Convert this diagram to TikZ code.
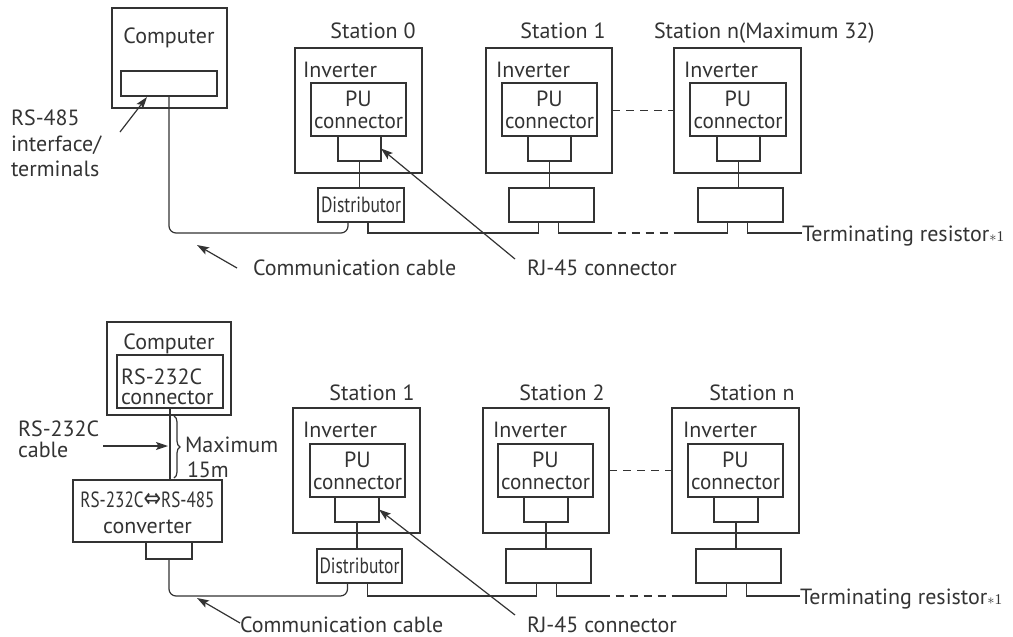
\documentclass[tikz,border=0pt]{standalone}
\usepackage{fontspec}
\setmainfont{PT Sans}
\newfontfamily\symfont{DejaVu Sans}
\newfontfamily\serfont{Liberation Serif}
\usepackage{graphicx}
\usetikzlibrary{arrows.meta,calc,decorations.pathreplacing}
\definecolor{ink}{HTML}{333333}
\newcommand\fs{\fontsize{22}{22}\selectfont}
\newcommand\rbox[6]{\node[box,minimum width={#4-#2},minimum height={#5-#3}] (#1) at ({(#2+#4)/2},{(#3+#5)/2}) {#6};}
\newcommand\distlbl{\resizebox{80pt}{\height}{Distributor}}
\newcommand\pulbl{PU\\\resizebox{89pt}{\height}{connector}}
\newcommand\astone{{\serfont\fontsize{15}{15}\selectfont$\ast$1}}
\begin{document}
\begin{tikzpicture}[x=1pt,y=-1pt,
  every node/.style={text=ink},
  ln/.style={draw=ink, line width=1.2pt},
  box/.style={draw=ink, line width=1.2pt, inner sep=0pt, outer sep=0pt, align=center, font=\fs},
  lbl/.style={inner sep=0pt, outer sep=0pt, font=\fs},
  arr/.style={ln, -{Stealth[length=12pt,width=8pt,inset=2.5pt]}},
  dsh/.style={ln, dash pattern=on 8pt off 6pt},
]
\useasboundingbox (0,0) rectangle (1013,637);

% ================= TOP DIAGRAM =================
\rbox{comp}{112}{8}{227}{108}{}
\rbox{cin}{121}{71}{217}{96}{}
\node[lbl,anchor=base] (tcomp) at (169,43) {Computer};
\node[lbl,anchor=base west] (r1) at (11,125) {RS-485};
\node[lbl,anchor=base west] (r2) at (11,151) {interface/};
\node[lbl,anchor=base west] (r3) at (11,176) {terminals};

% stations
\rbox{inv0}{295}{48}{422}{173}{}
\rbox{pu0}{311}{83}{406}{136}{\pulbl}
\rbox{rj0}{338}{136}{381}{161}{}
\rbox{d0}{318}{188}{404}{222}{\distlbl}
\rbox{inv1}{486}{48}{612}{173}{}
\rbox{pu1}{502}{83}{597}{136}{\pulbl}
\rbox{rj1}{528}{136}{571}{161}{}
\rbox{d1}{509}{188}{594}{222}{}
\rbox{invn}{674}{48}{801}{173}{}
\rbox{pun}{690}{83}{786}{136}{\pulbl}
\rbox{rjn}{717}{136}{760}{161}{}
\rbox{dn}{698}{188}{783}{222}{}

\node[lbl,anchor=base] (s0) at (373,38) {Station 0};
\node[lbl,anchor=base] (s1) at (563,38) {Station 1};
\node[lbl,anchor=base west] (sn) at (654,38) {Station n(Maximum 32)};
\node[lbl,anchor=base west] (i0) at (303,77) {Inverter};
\node[lbl,anchor=base west] (i1) at (496,77) {Inverter};
\node[lbl,anchor=base west] (in) at (684,77) {Inverter};

\draw[ln] (rj0.south) -- (rj0.south |- d0.north);
\draw[ln] (rj1.south) -- (rj1.south |- d1.north);
\draw[ln] (rjn.south) -- (rjn.south |- dn.north);
\draw[dsh] (inv1.east) -- (invn.west);

\coordinate (d0l) at ($(d0.south)+(-13,0)$);
\coordinate (d0r) at ($(d0.south)+(7,0)$);
\coordinate (d1l) at ($(d1.south)+(-13,0)$);
\coordinate (d1r) at ($(d1.south)+(7,0)$);
\coordinate (dnl) at ($(dn.south)+(-13,0)$);
\coordinate (dnr) at ($(dn.south)+(7,0)$);

\draw[ln] (cin.south) [rounded corners=7pt] |- ($(d0l)+(0,11)$) [sharp corners] -- (d0l);
\draw[ln] (d0r) -- ++(0,11) -| (d1l);
\draw[ln] (d1r) -- ++(0,11) -- ++(45,0) coordinate (dA);
\draw[dsh] (dA) -- ++(78,0) coordinate (dB);
\draw[ln] (dB) -| (dnl);

\node[lbl,anchor=base west] (term) at (802,241) {Terminating resistor\astone};
\coordinate (tA) at ($(term.base west)+(0,-8)$);
\draw[ln] (dnr) |- (tA);

\node[lbl,anchor=base west] (cc) at (253,275) {Communication cable};
\node[lbl,anchor=base west] (rjl) at (527,275) {RJ-45 connector};

\coordinate (a1) at (120,132);
\draw[arr] (a1) -- ($(cin.south west)+(26,1)$);
\coordinate (a2) at (237,268);
\coordinate (a2t) at (197,245);
\draw[arr] (a2) -- (a2t);
\coordinate (a3) at (515,259);
\draw[arr] (a3) -- (rj0.east);

% ================= BOTTOM DIAGRAM =================
\rbox{comp2}{107}{322}{231}{415}{}
\rbox{cin2}{117}{355}{223}{408}{}
\node[lbl,anchor=base] (tcomp2) at (169,349) {Computer};
\node[lbl,anchor=base west] (c1) at (121,384) {RS-232C};
\node[lbl,anchor=base west] (c2) at (121,404) {connector};

\rbox{conv}{73}{480}{222}{542}{}
\node[lbl,anchor=base] (v1) at (147.5,507) {\resizebox{134pt}{\height}{RS-232C{\symfont\fontsize{27}{27}\selectfont ⇔}RS-485}};
\node[lbl,anchor=base] (v2) at (147.5,533) {converter};
\rbox{cs}{146}{542}{192}{559}{}

\draw[ln] (cin2.south) -- (cin2.south |- conv.north);
\draw[ln, decorate, decoration={brace, amplitude=6pt}] ($(cin2.south)+(4,8)$) -- ($(cin2.south |- conv.north)+(4,-2)$);
\node[lbl,anchor=base west] (k1) at (18,436) {RS-232C};
\node[lbl,anchor=base west] (k2) at (18,457) {cable};
\node[lbl,anchor=base west] (m1) at (185,452) {Maximum};
\node[lbl,anchor=base west] (m2) at (187,477) {15m};
\coordinate (a4) at (103,446);
\draw[arr] (a4) -- ($(cin2.south)+(-2,38)$);

\rbox{inv1b}{293}{408}{420}{533}{}
\rbox{pu1b}{310}{444}{405}{497}{\pulbl}
\rbox{rj1b}{335}{497}{379}{522}{}
\rbox{d1b}{317}{549}{402}{583}{\distlbl}
\rbox{inv2b}{483}{408}{609}{533}{}
\rbox{pu2b}{498}{444}{593}{497}{\pulbl}
\rbox{rj2b}{524}{497}{568}{522}{}
\rbox{d2b}{506}{549}{591}{583}{}
\rbox{invnb}{672}{408}{799}{533}{}
\rbox{punb}{688}{444}{783}{497}{\pulbl}
\rbox{rjnb}{714}{497}{758}{522}{}
\rbox{dnb}{696}{549}{781}{583}{}

\node[lbl,anchor=base] (s1b) at (372,400) {Station 1};
\node[lbl,anchor=base] (s2b) at (562,400) {Station 2};
\node[lbl,anchor=base] (snb) at (752,400) {Station n};
\node[lbl,anchor=base west] (i1b) at (303,437) {Inverter};
\node[lbl,anchor=base west] (i2b) at (493,437) {Inverter};
\node[lbl,anchor=base west] (inb) at (683,437) {Inverter};

\draw[ln] (rj1b.south) -- (rj1b.south |- d1b.north);
\draw[ln] (rj2b.south) -- (rj2b.south |- d2b.north);
\draw[ln] (rjnb.south) -- (rjnb.south |- dnb.north);
\draw[dsh] (inv2b.east) -- (invnb.west);

\coordinate (e1l) at ($(d1b.south)+(-12,0)$);
\coordinate (e1r) at ($(d1b.south)+(8,0)$);
\coordinate (e2l) at ($(d2b.south)+(-12,0)$);
\coordinate (e2r) at ($(d2b.south)+(8,0)$);
\coordinate (enl) at ($(dnb.south)+(-12,0)$);
\coordinate (enr) at ($(dnb.south)+(8,0)$);

\draw[ln] (cs.south) [rounded corners=7pt] |- ($(e1l)+(0,13)$) [sharp corners] -- (e1l);
\draw[ln] (e1r) -- ++(0,13) -| (e2l);
\draw[ln] (e2r) -- ++(0,13) -- ++(45,0) coordinate (eA);
\draw[dsh] (eA) -- ++(78,0) coordinate (eB);
\draw[ln] (eB) -| (enl);

\node[lbl,anchor=base west] (termb) at (800,604) {Terminating resistor\astone};
\coordinate (tB) at ($(termb.base west)+(0,-8)$);
\draw[ln] (enr) |- (tB);

\node[lbl,anchor=base west] (ccb) at (240,632) {Communication cable};
\node[lbl,anchor=base west] (rjlb) at (527,632) {RJ-45 connector};
\coordinate (a5) at (240,623);
\coordinate (a5t) at (197,598);
\draw[arr] (a5) -- (a5t);
\coordinate (a6) at (515,615);
\draw[arr] (a6) -- (rj1b.east);
\end{tikzpicture}
\end{document}
